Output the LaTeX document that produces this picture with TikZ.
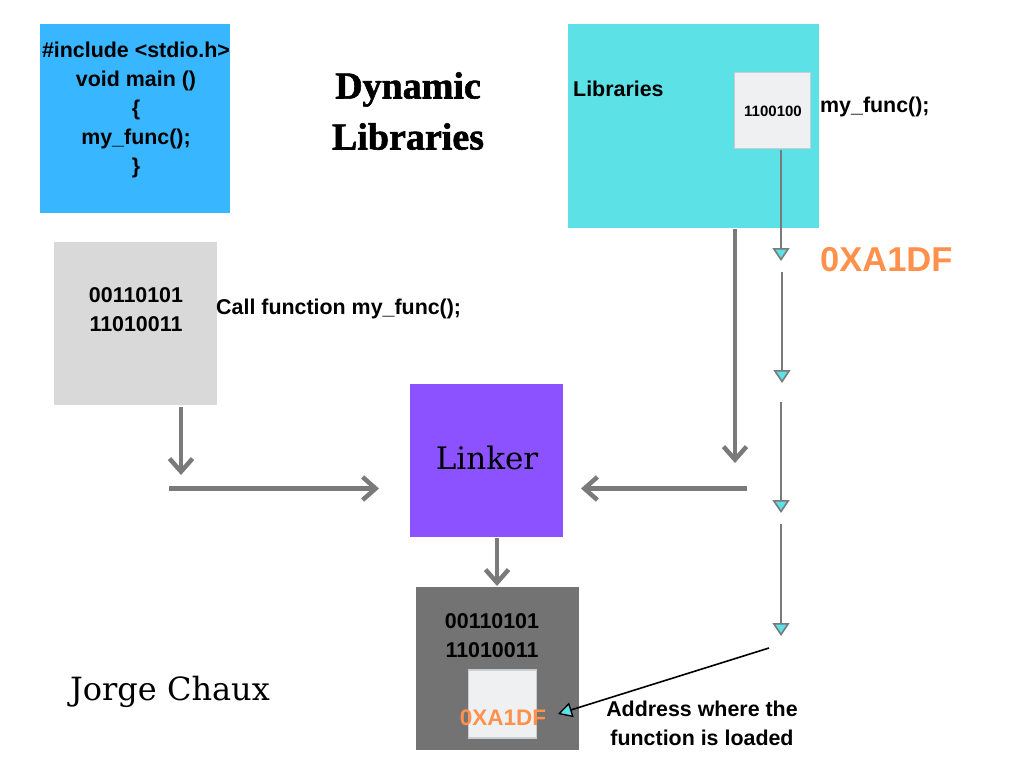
\documentclass[tikz,border=0pt]{standalone}
\usepackage{fontspec}
\setsansfont{Liberation Sans}
\newfontfamily\titlefont{Liberation Serif Bold}[FakeBold=1.5]
\newfontfamily\serifdisp{DejaVu Serif}
\usetikzlibrary{arrows.meta}
\definecolor{cblue}{HTML}{38B6FF}
\definecolor{ccyan}{HTML}{5CE1E6}
\definecolor{cgray}{HTML}{D9D9D9}
\definecolor{cpurple}{HTML}{8C52FF}
\definecolor{cdark}{HTML}{737373}
\definecolor{corange}{HTML}{FF914D}
\definecolor{carrow}{HTML}{7A7A7A}
\definecolor{csmall}{HTML}{EFF0F2}
\definecolor{csmallb}{HTML}{C9CDD1}
\definecolor{ctip}{HTML}{5CE1E6}
\tikzset{
  box/.style={rectangle, inner sep=0pt, draw=none},
  sans/.style={font=\fontsize{21.4}{29}\selectfont\sffamily\bfseries, inner sep=0pt, align=center},
  bigarrow/.style={draw=carrow, line width=4.5pt, -{Straight Barb[length=13pt,width=23pt]}},
  thinarrow/.style={draw=carrow, line width=2pt, -{Triangle[length=13pt,width=17pt,fill=ctip,line width=1.6pt]}},
  ptrarrow/.style={draw=black, line width=1.6pt, -{Triangle[length=14pt,width=15pt,fill=ctip,line width=1.3pt]}},
}
\begin{document}
\begin{tikzpicture}[x=1pt,y=-1pt]
\useasboundingbox (0,0) rectangle (1024,768);
\fill[white] (0,0) rectangle (1024,768);

% boxes
\node[box, fill=cblue, minimum width=190pt, minimum height=189pt] (code) at (135,118.5) {};
\node[box, fill=cgray, minimum width=163pt, minimum height=163pt] (obj) at (135.5,323.5) {};
\node[box, fill=ccyan, minimum width=251pt, minimum height=204pt] (lib) at (693.5,126) {};
\node[box, fill=csmall, draw=csmallb, line width=1.5pt, minimum width=76pt, minimum height=76pt] (func) at (772.5,110.5) {};
\node[box, fill=cpurple, minimum width=153pt, minimum height=153pt] (linker) at (486.5,460.5) {};
\node[box, fill=cdark, minimum width=163pt, minimum height=163pt] (out) at (497.5,668.5) {};
\node[box, fill=csmall, draw=csmallb, line width=1.2pt, minimum width=68pt, minimum height=68pt] (slot) at (502.5,704) {};

% texts
\node[sans] (codetxt) at (136,110) {\#include <stdio.h>\\void main ()\\\{\\my\_func();\\\}};
\node[sans] (objtxt) at (136,309.5) {00110101\\11010011};
\node[sans, anchor=west] (calltxt) at (216,309) {Call function my\_func();};
\node[sans, anchor=west] (libtxt) at (573,89) {Libraries};
\node[sans, font=\fontsize{15}{18}\selectfont\sffamily\bfseries] (functxt) at (773,111) {1100100};
\node[sans, anchor=west] (fnametxt) at (820,107) {my\_func();};
\node[sans, anchor=west, text=corange, font=\fontsize{34.5}{40}\selectfont\sffamily\bfseries] (addrtxt) at (820,260) {0XA1DF};
\node[sans] (outtxt) at (492,635.5) {00110101\\11010011};
\node[sans, text=corange, font=\fontsize{22.5}{26}\selectfont\sffamily\bfseries] (slottxt) at (503,718) {0XA1DF};
\node[sans] (notetxt) at (702,723.5) {Address where the\\function is loaded};
\node[inner sep=0pt, align=center, font=\fontsize{38}{51}\selectfont\titlefont] (title) at (408,111) {Dynamic\\Libraries};
\node[inner sep=0pt, font=\fontsize{31}{40}\selectfont\serifdisp] (linktxt) at (487,458) {Linker};
\node[inner sep=0pt, font=\fontsize{32}{40}\selectfont\serifdisp] (author) at (170,692) {Jorge Chaux};

% connector coordinates
\coordinate (a1s) at (181,407);
\coordinate (a1e) at (181,475);
\coordinate (a2s) at (169,488.5);
\coordinate (a2e) at (379,488.5);
\coordinate (a3s) at (735,229);
\coordinate (a3e) at (735,463);
\coordinate (a4s) at (747,488.5);
\coordinate (a4e) at (581,488.5);
\coordinate (a5s) at (497,538);
\coordinate (a5e) at (497,586);

\coordinate (t1s) at (781,150);
\coordinate (t1e) at (781,261);
\coordinate (t2s) at (782,272);
\coordinate (t2e) at (782,383);
\coordinate (t3s) at (781,402);
\coordinate (t3e) at (781,513);
\coordinate (t4s) at (781,524);
\coordinate (t4e) at (781,636);
\coordinate (ps) at (769,648);
\coordinate (pe) at (558,714);

\draw[bigarrow] (a1s) -- (a1e);
\draw[bigarrow] (a2s) -- (a2e);
\draw[bigarrow] (a3s) -- (a3e);
\draw[bigarrow] (a4s) -- (a4e);
\draw[bigarrow] (a5s) -- (a5e);

\draw[thinarrow] (t1s) -- (t1e);
\draw[thinarrow] (t2s) -- (t2e);
\draw[thinarrow] (t3s) -- (t3e);
\draw[thinarrow] (t4s) -- (t4e);
\draw[ptrarrow] (ps) -- (pe);
\end{tikzpicture}
\end{document}
